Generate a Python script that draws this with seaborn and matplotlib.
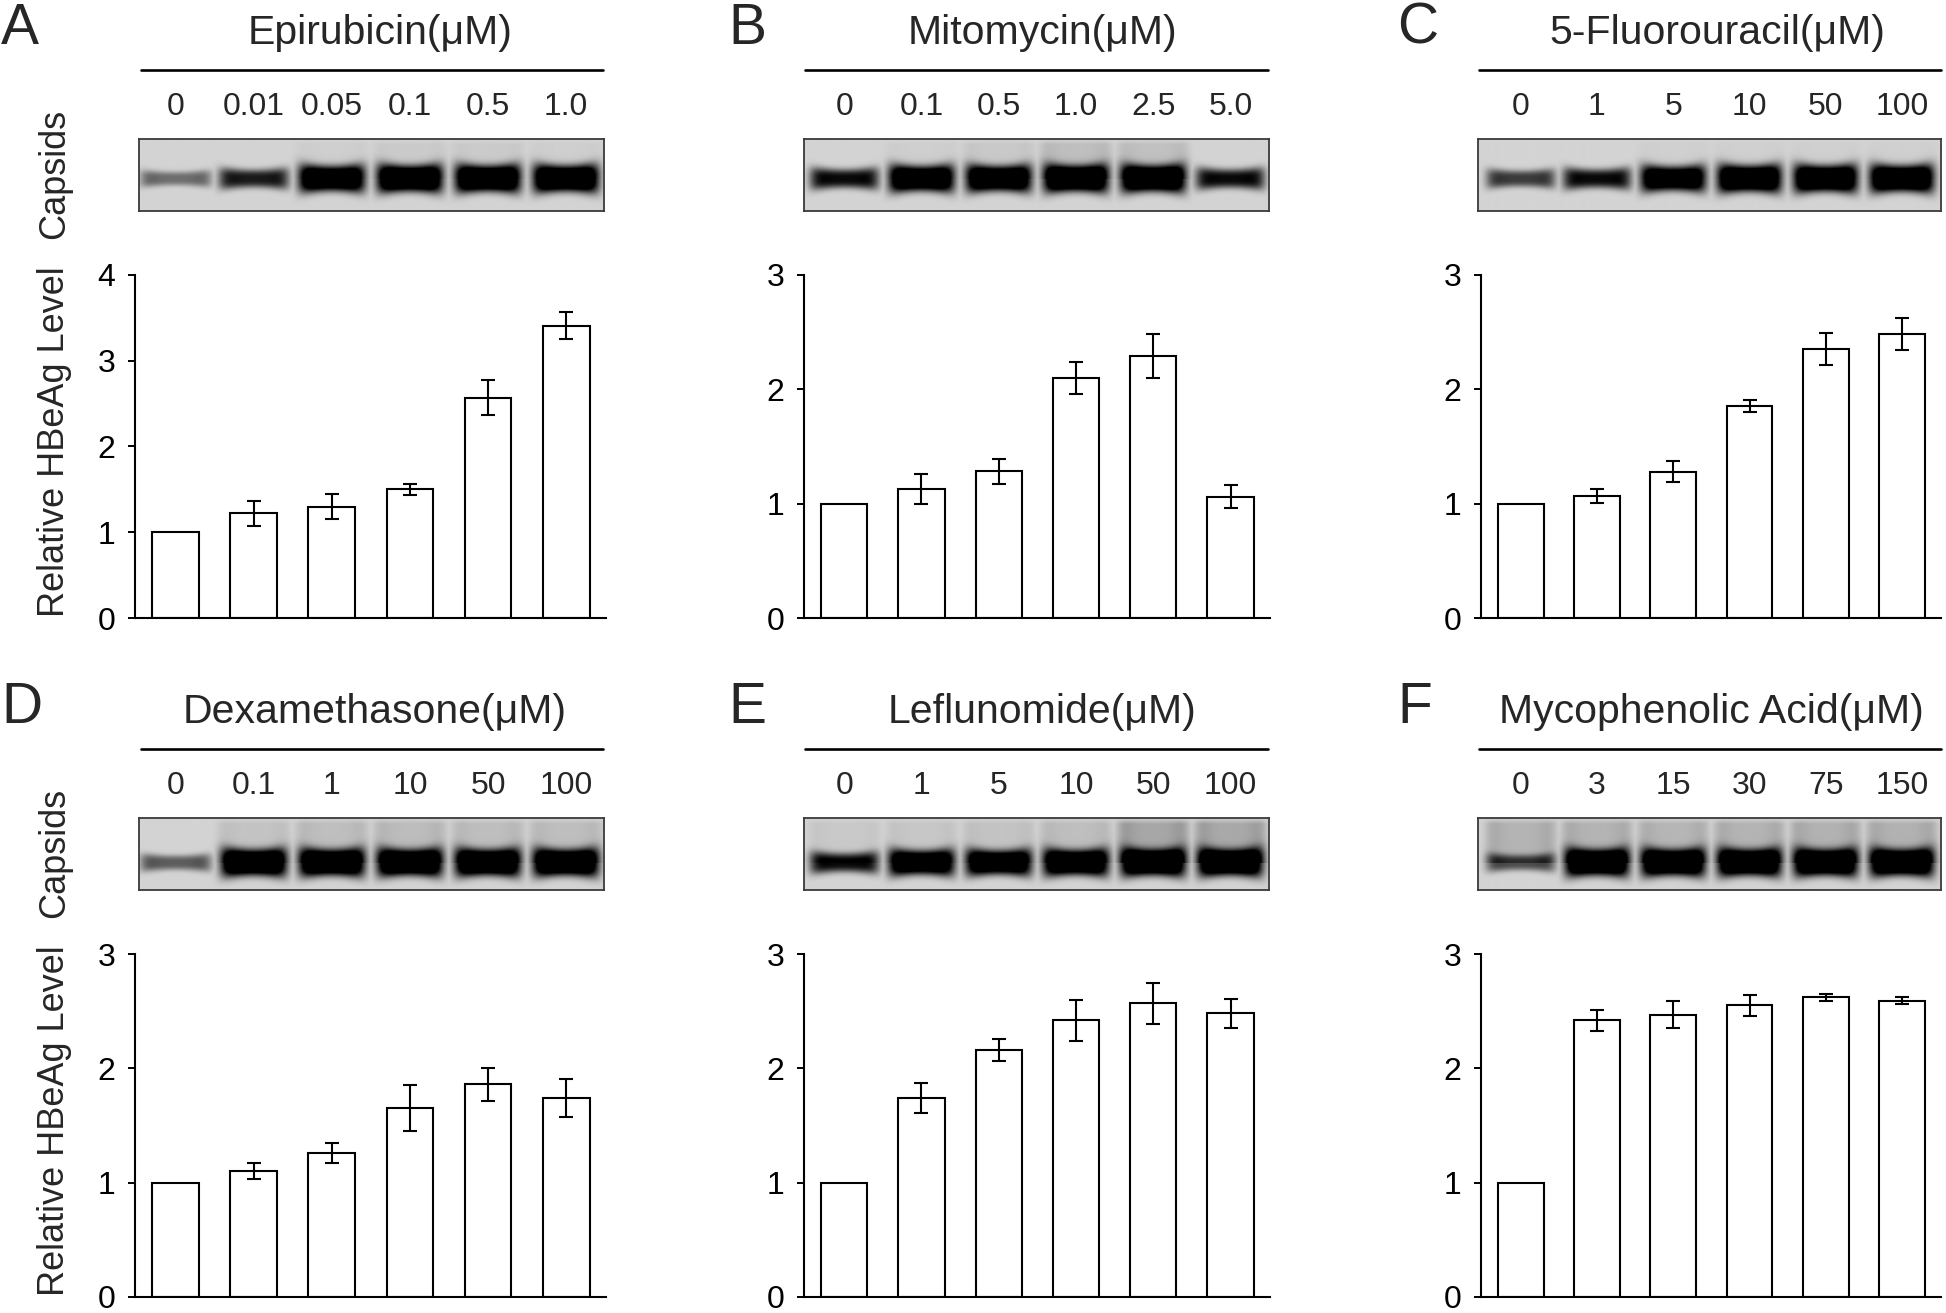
import numpy as np
import pandas as pd
import matplotlib
matplotlib.use('Agg')
import matplotlib.pyplot as plt
from matplotlib.lines import Line2D
import seaborn as sns

# drug panels
letters = ['A', 'B', 'C', 'D', 'E', 'F']
drugs = ['Epirubicin(μM)', 'Mitomycin(μM)', '5-Fluorouracil(μM)',
         'Dexamethasone(μM)', 'Leflunomide(μM)', 'Mycophenolic Acid(μM)']

epi_doses = ['0', '0.01', '0.05', '0.1', '0.5', '1.0']
mito_doses = ['0', '0.1', '0.5', '1.0', '2.5', '5.0']
fu_doses = ['0', '1', '5', '10', '50', '100']
dex_doses = ['0', '0.1', '1', '10', '50', '100']
lef_doses = ['0', '1', '5', '10', '50', '100']
mpa_doses = ['0', '3', '15', '30', '75', '150']

# relative HBeAg level (mean, sd)
epi_val = [1.0, 1.22, 1.30, 1.50, 2.57, 3.41]
epi_err = [0, 0.15, 0.145, 0.065, 0.20, 0.16]
mito_val = [1.0, 1.13, 1.285, 2.095, 2.29, 1.06]
mito_err = [0, 0.13, 0.11, 0.14, 0.19, 0.10]
fu_val = [1.0, 1.065, 1.28, 1.855, 2.35, 2.48]
fu_err = [0, 0.06, 0.09, 0.05, 0.14, 0.14]
dex_val = [1.0, 1.10, 1.26, 1.65, 1.86, 1.74]
dex_err = [0, 0.07, 0.085, 0.20, 0.145, 0.17]
lef_val = [1.0, 1.74, 2.16, 2.42, 2.57, 2.48]
lef_err = [0, 0.13, 0.10, 0.18, 0.18, 0.13]
mpa_val = [1.0, 2.42, 2.47, 2.55, 2.62, 2.59]
mpa_err = [0, 0.09, 0.12, 0.09, 0.03, 0.03]

# capsid band darkness per lane, and smear above the band
epi_band = [0.3, 0.55, 0.95, 1.0, 1.0, 1.0]
mito_band = [0.6, 0.95, 0.95, 1.0, 1.0, 0.6]
fu_band = [0.45, 0.6, 0.9, 1.0, 1.0, 1.0]
dex_band = [0.35, 1.0, 1.0, 1.0, 1.0, 1.0]
lef_band = [0.6, 0.9, 0.9, 0.95, 1.0, 1.0]
mpa_band = [0.4, 1.0, 1.0, 1.0, 1.0, 1.0]
epi_smear = [0, 0, 0.05, 0.08, 0.08, 0.05]
mito_smear = [0, 0.05, 0.1, 0.2, 0.18, 0]
fu_smear = [0, 0, 0.04, 0.04, 0.04, 0.04]
dex_smear = [0, 0.15, 0.2, 0.22, 0.2, 0.2]
lef_smear = [0.1, 0.12, 0.15, 0.2, 0.42, 0.4]
mpa_smear = [0.3, 0.3, 0.28, 0.3, 0.32, 0.32]

doses = [epi_doses, mito_doses, fu_doses, dex_doses, lef_doses, mpa_doses]
vals = [epi_val, mito_val, fu_val, dex_val, lef_val, mpa_val]
errs = [epi_err, mito_err, fu_err, dex_err, lef_err, mpa_err]
bands = [epi_band, mito_band, fu_band, dex_band, lef_band, mpa_band]
smears = [epi_smear, mito_smear, fu_smear, dex_smear, lef_smear, mpa_smear]
ymaxs = [4, 3, 3, 3, 3, 3]

sns.set_style('white')
plt.rcParams['font.family'] = ['Liberation Sans', 'DejaVu Sans']

W, H = 1946, 1313
fig = plt.figure(figsize=(W / 100, H / 100), dpi=100)

def fx(x):
    return x / W

def fy(y):
    return 1 - y / H

# layout in pixels
cols = [dict(L=135, R=606, GL=139, GR=604, line=(141, 603), lx=1),
        dict(L=804, R=1270, GL=804, GR=1269, line=(805, 1268), lx=728),
        dict(L=1481, R=1941, GL=1478, GR=1941, line=(1479, 1941), lx=1397)]
rows = [dict(top=275, bot=618, gel=(139, 211), line=70, dose=115, base=44, yc=0.55),
        dict(top=954, bot=1297, gel=(818, 890), line=749, dose=794, base=723, yc=0.62)]
title_x = [380, 1042, 1717, 375, 1042, 1711]
XL = (-0.52, 5.51)


def gel_image(band, smear, x0, x1, yc_frac, ny=72, nx=700):
    xs = np.linspace(x0, x1, nx)
    ys = np.arange(ny) + 0.5
    X, Y = np.meshgrid(xs, ys)
    yc = yc_frac * ny
    dark = np.zeros_like(X)
    for i, (b, s) in enumerate(zip(band, smear)):
        dx = (X - i) / 0.42
        hx = np.exp(-np.abs(dx) ** 6)
        edge = 1 + (1 - b) * 1.3 * dx ** 4
        t = (4.5 + 8 * b) * (1 + 0.3 * dx ** 2)
        vy = np.exp(-np.abs((Y - yc) / t) ** 3)
        d = np.clip(b * 1.6 * edge * hx * vy, 0, 1)
        sm = s * hx * (0.5 + 0.8 * np.abs(dx) ** 4) * (Y < yc) * np.clip(Y / 6, 0, 1)
        dark = np.maximum(dark, np.clip(d + sm, 0, 1))
    return 0.83 * (1 - dark)


for k in range(6):
    c = cols[k % 3]
    r = rows[k // 3]
    unit = (c['R'] - c['L']) / (XL[1] - XL[0])

    # bar chart
    ax = fig.add_axes([fx(c['L']), fy(r['bot']), fx(c['R'] - c['L']),
                       (r['bot'] - r['top']) / H])
    df = pd.DataFrame({'dose': doses[k], 'level': vals[k], 'sd': errs[k]})
    sns.barplot(data=df, x='dose', y='level', order=doses[k], color='white',
                edgecolor='black', linewidth=1.5, width=0.6, errorbar=None,
                saturation=1, ax=ax)
    for p in ax.patches:
        p.set_facecolor('white')
    ax.errorbar(np.arange(1, 6), df['level'][1:], yerr=df['sd'][1:], fmt='none',
                ecolor='black', elinewidth=1.5, capsize=5, capthick=1.5)
    ax.set_xlim(*XL)
    ax.set_ylim(0, ymaxs[k])
    ax.set_yticks(range(ymaxs[k] + 1))
    ax.set_xticks([])
    ax.set_xlabel('')
    ax.set_ylabel('')
    for s in ['top', 'right']:
        ax.spines[s].set_visible(False)
    for s in ['left', 'bottom']:
        ax.spines[s].set_linewidth(1.5)
        ax.spines[s].set_color('black')
    ax.tick_params(axis='y', direction='out', length=5, width=1.4, pad=9,
                   labelsize=23, left=True, colors='black')

    # gel strip
    x0 = XL[0] + (c['GL'] - c['L']) / unit
    x1 = XL[0] + (c['GR'] - c['L']) / unit
    g0, g1 = r['gel']
    gax = fig.add_axes([fx(c['GL']), fy(g1), fx(c['GR'] - c['GL']), (g1 - g0) / H])
    img = gel_image(bands[k], smears[k], x0, x1, r['yc'])
    gax.imshow(img, cmap='gray', vmin=0, vmax=1, aspect='auto',
               extent=(x0, x1, img.shape[0], 0), interpolation='bilinear')
    gax.set_xlim(x0, x1)
    gax.set_xticks([])
    gax.set_yticks([])
    for s in gax.spines.values():
        s.set_linewidth(1.3)
        s.set_color('#3a3a3a')
        s.set_visible(True)

    # dose labels above the gel
    tr = gax.get_xaxis_transform()
    for i, d in enumerate(doses[k]):
        gax.text(i, 1 + (g0 - r['dose']) / (g1 - g0), d, transform=tr,
                 ha='center', va='baseline', fontsize=23)

    # title, line and panel letter
    lx0, lx1 = c['line']
    fig.add_artist(Line2D([fx(lx0), fx(lx1)], [fy(r['line'])] * 2,
                          transform=fig.transFigure, color='black', lw=1.9))
    fig.text(fx(title_x[k]), fy(r['base']), drugs[k], ha='center',
             va='baseline', fontsize=29.5)
    fig.text(fx(c['lx']), fy(r['base']), letters[k], ha='left',
             va='baseline', fontsize=41)

# left side labels
for off in [0, 679]:
    fig.text(fx(64), fy(174 + off), 'Capsids', rotation=90, rotation_mode='anchor',
             ha='center', va='baseline', fontsize=26)
    fig.text(fx(64), fy(442 + off), 'Relative HBeAg Level', rotation=90,
             rotation_mode='anchor', ha='center', va='baseline', fontsize=26)

fig.savefig('out.png', dpi=100, facecolor='white')
